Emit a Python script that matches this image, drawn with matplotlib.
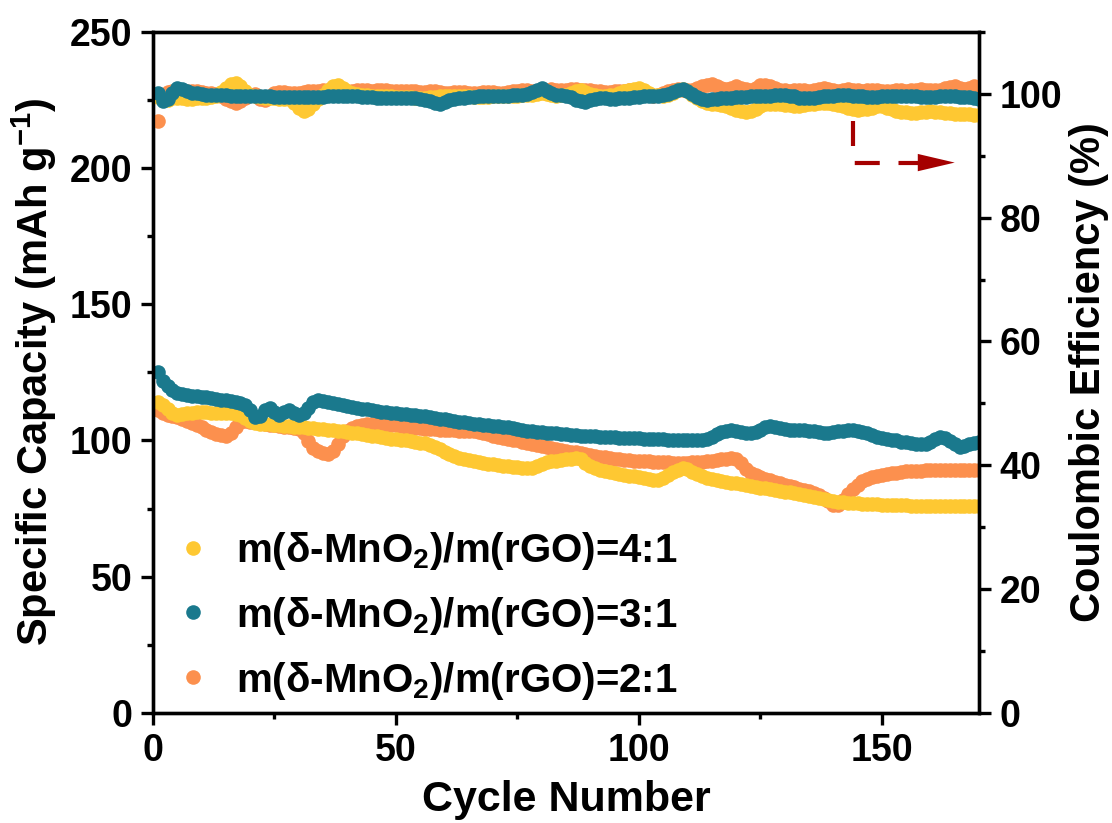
import numpy as np
import matplotlib
matplotlib.use('Agg')
import matplotlib.pyplot as plt
from matplotlib.ticker import MultipleLocator

plt.rcParams['font.family'] = ['Liberation Sans', 'DejaVu Sans']
plt.rcParams['font.weight'] = 'bold'
plt.rcParams['mathtext.default'] = 'regular'

# cycle index
cycles = np.arange(1, 171)

# specific capacity (mAh g-1)
cap_41 = [
    114.0, 113.0, 111.5, 110.0, 109.4, 109.6, 110.0, 110.2, 110.3, 110.3,
    110.3, 110.2, 110.2, 110.1, 110.0, 109.9, 109.7, 109.3, 108.4, 107.0,
    106.4, 106.2, 106.0, 105.9, 105.7, 105.6, 105.4, 105.3, 105.1, 105.0,
    104.8, 104.6, 104.5, 104.3, 104.1, 103.9, 103.7, 103.5, 103.3, 103.1,
    102.9, 102.6, 102.3, 102.0, 101.7, 101.5, 101.2, 101.0, 100.7, 100.5,
    100.3, 100.0, 99.8, 99.5, 99.2, 99.0, 98.4, 97.6, 96.7, 95.8,
    95.0, 94.3, 93.7, 93.2, 92.8, 92.4, 92.1, 91.8, 91.5, 91.2,
    91.0, 90.7, 90.5, 90.3, 90.1, 89.9, 89.8, 90.0, 90.6, 91.4,
    92.0, 92.4, 92.6, 92.8, 93.0, 93.3, 93.5, 93.0, 91.8, 90.6,
    89.8, 89.2, 88.7, 88.3, 88.0, 87.7, 87.4, 87.1, 86.8, 86.5,
    86.2, 85.8, 85.5, 85.6, 86.3, 87.3, 88.3, 89.3, 89.8, 89.4,
    88.5, 87.6, 86.8, 86.1, 85.7, 85.4, 85.1, 84.8, 84.5, 84.2,
    83.9, 83.6, 83.3, 83.0, 82.7, 82.4, 82.1, 81.8, 81.5, 81.2,
    80.9, 80.6, 80.3, 80.0, 79.6, 79.2, 78.8, 78.4, 78.0, 77.7,
    77.5, 77.3, 77.1, 77.0, 76.9, 76.8, 76.7, 76.6, 76.5, 76.4,
    76.3, 76.3, 76.2, 76.2, 76.2, 76.1, 76.1, 76.1, 76.0, 76.0,
    76.0, 76.0, 75.9, 75.9, 75.9, 75.9, 75.8, 75.8, 75.8, 75.8]

cap_31 = [
    125.0, 122.0, 120.0, 118.6, 117.6, 117.2, 116.8, 116.5, 116.3, 116.0,
    115.8, 115.5, 115.3, 115.0, 114.8, 114.5, 114.2, 113.8, 113.0, 111.0,
    108.5, 109.0, 111.0, 112.0, 110.5, 109.5, 110.5, 111.2, 110.0, 109.2,
    110.2, 112.0, 114.0, 115.0, 114.6, 114.0, 113.6, 113.2, 112.9, 112.6,
    112.3, 112.0, 111.7, 111.4, 111.1, 110.8, 110.6, 110.4, 110.2, 110.0,
    109.8, 109.6, 109.4, 109.2, 109.0, 108.8, 108.5, 108.2, 108.0, 107.7,
    107.4, 107.1, 106.8, 106.6, 106.4, 106.2, 106.0, 105.8, 105.6, 105.4,
    105.2, 105.0, 104.8, 104.5, 104.2, 103.9, 103.6, 103.4, 103.2, 103.0,
    102.8, 102.7, 102.6, 102.4, 102.2, 102.0, 101.9, 101.8, 101.7, 101.6,
    101.5, 101.4, 101.3, 101.2, 101.1, 101.0, 101.0, 100.9, 100.8, 100.8,
    100.7, 100.6, 100.5, 100.5, 100.4, 100.3, 100.3, 100.2, 100.2, 100.1,
    100.0, 100.0, 100.1, 100.4, 101.2, 102.2, 103.0, 103.6, 103.8, 103.4,
    103.0, 102.8, 102.6, 103.2, 104.0, 104.8, 105.2, 105.0, 104.6, 104.3,
    104.0, 103.9, 103.8, 103.8, 103.6, 103.3, 103.0, 102.8, 102.9, 103.1,
    103.3, 103.5, 103.7, 103.8, 103.6, 103.2, 102.6, 102.0, 101.4, 101.0,
    100.6, 100.3, 100.0, 99.6, 99.3, 99.0, 98.8, 98.6, 98.8, 99.6,
    100.6, 101.2, 100.8, 99.8, 98.6, 97.6, 97.8, 98.6, 99.2, 99.4]

cap_21 = [
    111.0, 110.0, 109.4, 109.0, 108.6, 108.0, 107.2, 106.4, 105.6, 104.8,
    104.0, 103.2, 102.5, 102.0, 101.8, 102.6, 104.8, 106.8, 107.2, 106.9,
    106.6, 106.3, 106.0, 105.8, 105.5, 105.3, 105.1, 104.9, 104.7, 104.3,
    102.6, 99.8, 97.4, 96.0, 95.3, 95.2, 96.2, 98.6, 101.6, 103.6,
    104.6, 105.2, 105.6, 105.9, 106.0, 106.0, 105.9, 105.8, 105.7, 105.5,
    105.3, 105.1, 104.9, 104.7, 104.5, 104.3, 104.2, 104.1, 104.0, 103.9,
    103.8, 103.7, 103.6, 103.5, 103.4, 103.3, 103.0, 102.6, 102.2, 101.8,
    101.4, 101.0, 100.6, 100.3, 100.0, 99.6, 99.2, 98.8, 98.4, 98.0,
    97.6, 97.2, 96.8, 96.5, 96.2, 95.9, 95.6, 95.3, 95.0, 94.7,
    94.4, 94.1, 93.8, 93.5, 93.3, 93.1, 92.9, 92.7, 92.6, 92.5,
    92.4, 92.3, 92.2, 92.1, 92.0, 91.9, 91.8, 91.8, 91.8, 91.8,
    91.9, 92.0, 92.2, 92.4, 92.6, 92.8, 93.0, 93.2, 93.4, 93.2,
    91.6, 89.6, 88.2, 87.2, 86.4, 85.8, 85.3, 84.8, 84.3, 83.8,
    83.3, 82.8, 82.3, 81.8, 81.3, 80.6, 79.8, 78.8, 77.6, 76.4,
    76.2, 78.0, 80.2, 82.2, 83.8, 85.0, 85.9, 86.5, 87.0, 87.4,
    87.7, 88.0, 88.2, 88.4, 88.6, 88.7, 88.8, 88.9, 89.0, 89.1,
    89.2, 89.2, 89.3, 89.3, 89.3, 89.3, 89.3, 89.3, 89.3, 89.3]

# coulombic efficiency (%)
ce_41 = [
    99.5, 99.2, 99.0, 99.3, 99.4, 99.3, 99.2, 99.2, 99.3, 99.3,
    99.4, 99.5, 99.7, 100.3, 101.0, 101.6, 101.8, 101.3, 100.4, 99.8,
    99.6, 99.5, 99.4, 99.4, 99.3, 99.2, 99.2, 99.1, 98.6, 97.8,
    97.3, 97.6, 98.4, 99.2, 99.9, 100.6, 101.2, 101.4, 101.0, 100.5,
    100.2, 100.0, 99.9, 99.8, 99.7, 99.7, 99.6, 99.6, 99.6, 99.5,
    99.5, 99.5, 99.5, 99.4, 99.4, 99.4, 99.5, 99.5, 99.6, 99.6,
    99.6, 99.7, 99.7, 99.6, 99.6, 99.5, 99.5, 99.5, 99.5, 99.6,
    99.6, 99.6, 99.6, 99.7, 99.7, 99.8, 99.8, 99.9, 100.0, 100.1,
    100.0, 99.8, 99.7, 99.8, 99.9, 100.2, 100.5, 100.6, 100.3, 100.0,
    99.8, 99.7, 99.7, 99.8, 99.9, 100.1, 100.4, 100.6, 100.8, 100.9,
    100.6, 100.2, 99.9, 99.8, 99.7, 99.9, 100.2, 100.6, 100.8, 100.4,
    99.8, 99.3, 98.9, 98.6, 98.4, 98.3, 98.2, 98.0, 97.7, 97.4,
    97.2, 97.0, 97.2, 97.6, 98.0, 98.3, 98.4, 98.4, 98.3, 98.2,
    98.2, 98.1, 98.1, 98.2, 98.3, 98.4, 98.5, 98.6, 98.5, 98.3,
    98.2, 98.0, 97.8, 97.5, 97.4, 97.5, 97.6, 97.8, 98.0, 98.0,
    97.8, 97.5, 97.3, 97.1, 97.0, 96.9, 96.9, 97.0, 97.1, 97.2,
    97.1, 97.0, 96.9, 96.9, 96.8, 96.8, 96.7, 96.7, 96.6, 96.6]

ce_31 = [
    100.2, 98.8, 99.2, 100.2, 100.9, 100.8, 100.4, 100.2, 100.1, 100.0,
    99.9, 99.9, 99.8, 99.8, 99.8, 99.7, 99.7, 99.7, 99.6, 99.6,
    99.6, 99.6, 99.6, 99.6, 99.5, 99.5, 99.5, 99.5, 99.5, 99.5,
    99.5, 99.5, 99.5, 99.5, 99.5, 99.6, 99.6, 99.6, 99.6, 99.6,
    99.6, 99.6, 99.5, 99.5, 99.5, 99.4, 99.4, 99.4, 99.4, 99.4,
    99.4, 99.4, 99.3, 99.3, 99.2, 99.0, 98.8, 98.5, 98.3, 98.7,
    99.0, 99.2, 99.3, 99.4, 99.5, 99.5, 99.6, 99.6, 99.6, 99.7,
    99.7, 99.7, 99.7, 99.8, 99.8, 99.9, 100.0, 100.3, 100.7, 100.9,
    100.5, 100.1, 99.9, 99.8, 99.7, 99.5, 99.0, 98.8, 98.7, 99.0,
    99.2, 99.3, 99.3, 99.2, 99.2, 99.3, 99.4, 99.4, 99.5, 99.5,
    99.6, 99.6, 99.6, 99.7, 99.8, 100.0, 100.3, 100.6, 100.8, 100.5,
    100.0, 99.5, 99.2, 99.0, 99.1, 99.2, 99.3, 99.4, 99.4, 99.5,
    99.5, 99.5, 99.6, 99.6, 99.6, 99.7, 99.7, 99.8, 99.8, 99.8,
    99.7, 99.6, 99.4, 99.3, 99.3, 99.4, 99.5, 99.6, 99.7, 99.7,
    99.8, 99.8, 99.8, 99.7, 99.6, 99.6, 99.5, 99.5, 99.5, 99.6,
    99.6, 99.6, 99.7, 99.7, 99.6, 99.6, 99.6, 99.5, 99.5, 99.5,
    99.5, 99.6, 99.6, 99.6, 99.6, 99.5, 99.5, 99.5, 99.4, 99.2]

ce_21 = [
    95.6, 99.8, 100.3, 100.4, 100.2, 100.3, 100.4, 100.5, 100.4, 100.3,
    100.2, 100.1, 100.0, 99.6, 99.2, 98.8, 98.5, 98.8, 99.4, 99.9,
    100.0, 99.2, 99.0, 99.6, 100.1, 100.3, 100.3, 100.2, 100.2, 100.2,
    100.3, 100.4, 100.4, 100.5, 100.6, 100.7, 100.8, 100.7, 100.5, 100.4,
    100.5, 100.6, 100.7, 100.6, 100.5, 100.6, 100.7, 100.6, 100.5, 100.4,
    100.4, 100.5, 100.5, 100.4, 100.3, 100.3, 100.4, 100.4, 100.3, 100.2,
    100.2, 100.3, 100.3, 100.3, 100.2, 100.2, 100.2, 100.3, 100.3, 100.3,
    100.2, 100.2, 100.3, 100.4, 100.5, 100.6, 100.6, 100.5, 100.5, 100.6,
    100.7, 100.8, 100.7, 100.6, 100.7, 100.8, 100.8, 100.7, 100.6, 100.6,
    100.5, 100.4, 100.3, 100.3, 100.4, 100.5, 100.5, 100.6, 100.7, 100.6,
    100.3, 99.8, 99.6, 99.8, 100.2, 100.5, 100.7, 100.8, 100.7, 100.6,
    100.6, 100.9, 101.2, 101.5, 101.6, 101.2, 100.9, 100.8, 101.0, 101.2,
    101.0, 100.8, 100.7, 101.0, 101.4, 101.5, 101.2, 100.9, 100.7, 100.6,
    100.5, 100.6, 100.7, 100.6, 100.5, 100.6, 100.8, 100.9, 100.8, 100.6,
    100.5, 100.6, 100.8, 100.7, 100.6, 100.5, 100.6, 100.7, 100.6, 100.5,
    100.4, 100.5, 100.6, 100.6, 100.5, 100.6, 100.7, 100.8, 100.7, 100.6,
    100.6, 100.7, 100.9, 101.1, 101.2, 101.0, 100.8, 100.9, 101.3, 101.1]

labels = ['m(δ-MnO$_2$)/m(rGO)=4:1',
          'm(δ-MnO$_2$)/m(rGO)=3:1',
          'm(δ-MnO$_2$)/m(rGO)=2:1']
colors = ['#FEC832', '#1A798D', '#FC904E']

fig = plt.figure(figsize=(11.12, 8.23), dpi=100)
ax1 = fig.add_axes([0.1376, 0.134, 0.7428, 0.8271])
ax2 = ax1.twinx()

ms = 10.5
# draw order: 2:1 at the bottom, 3:1 on top
h21, = ax1.plot(cycles, cap_21, 'o', color=colors[2], ms=ms, mew=0, label=labels[2])
h41, = ax1.plot(cycles, cap_41, 'o', color=colors[0], ms=ms, mew=0, label=labels[0])
h31, = ax1.plot(cycles, cap_31, 'o', color=colors[1], ms=ms, mew=0, label=labels[1])
ax2.plot(cycles, ce_21, 'o', color=colors[2], ms=ms, mew=0)
ax2.plot(cycles, ce_41, 'o', color=colors[0], ms=ms, mew=0)
ax2.plot(cycles, ce_31, 'o', color=colors[1], ms=ms, mew=0)

ax1.set_xlim(0, 170)
ax1.set_ylim(0, 250)
ax2.set_ylim(0, 110)

ax1.xaxis.set_major_locator(MultipleLocator(50))
ax1.xaxis.set_minor_locator(MultipleLocator(25))
ax1.yaxis.set_major_locator(MultipleLocator(50))
ax1.yaxis.set_minor_locator(MultipleLocator(25))
ax2.yaxis.set_major_locator(MultipleLocator(20))
ax2.yaxis.set_minor_locator(MultipleLocator(10))

for ax in (ax1, ax2):
    for s in ax.spines.values():
        s.set_linewidth(2.4)
    ax.tick_params(which='major', direction='out', length=8.6, width=2.4,
                   labelsize=27, pad=6)
    ax.tick_params(which='minor', direction='out', length=4.5, width=2.4)
ax1.tick_params(axis='y', which='both', right=False)

ax1.set_xlabel('Cycle Number', fontsize=31, fontweight='bold', labelpad=8)
ax1.set_ylabel('Specific Capacity (mAh g$^{-1}$)', fontsize=30, fontweight='bold', labelpad=8)
ax2.set_ylabel('Coulombic Efficiency (%)', fontsize=30, fontweight='bold', labelpad=5)

# dashed arrow pointing to the right axis
red = '#A50000'
ax2.plot([144, 144, 157.5], [95.7, 88.9, 88.9], color=red, lw=3, dashes=(6, 4.5))
ax2.fill([157.4, 165.0, 157.4], [90.3, 88.9, 87.5], color=red, lw=0)

ax1.legend(handles=[h41, h31, h21], loc='lower left', frameon=False,
           fontsize=29, markerscale=1.0, handlelength=0.6, handletextpad=0.75,
           labelspacing=0.57, borderaxespad=0.3, bbox_to_anchor=(0.0, -0.025))

fig.savefig('out.png', dpi=100)
